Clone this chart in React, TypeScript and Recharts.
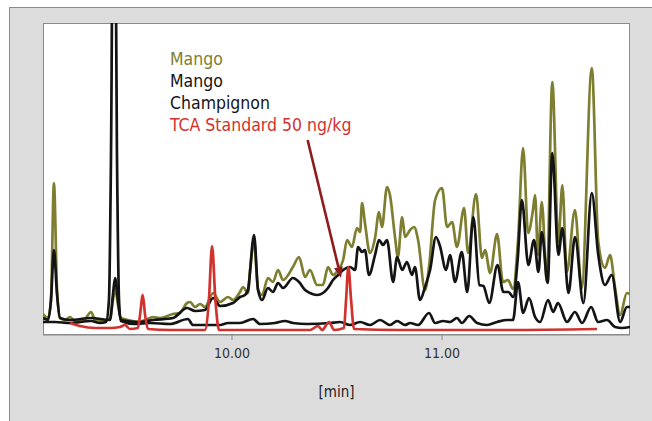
import { LineChart, Line, XAxis, YAxis, ReferenceLine } from "recharts";

// retention time [min], detector response (arbitrary units)
const mangoOlive: [number, number][] = [
	[9.1, 21], [9.124, 17], [9.138, 35], [9.152, 152], [9.167, 45], [9.181, 17], [9.205, 15],
	[9.229, 18], [9.252, 14], [9.29, 14], [9.329, 23], [9.348, 15], [9.395, 14], [9.419, 17],
	[9.433, 35], [9.443, 47], [9.457, 30], [9.471, 17], [9.505, 15], [9.552, 13], [9.586, 15],
	[9.624, 18], [9.657, 17], [9.719, 21], [9.752, 22], [9.786, 32], [9.8, 33], [9.824, 28],
	[9.848, 31], [9.871, 28], [9.91, 42], [9.943, 33], [9.981, 38], [10.005, 35], [10.038, 43],
	[10.052, 48], [10.076, 42], [10.086, 65], [10.105, 93], [10.124, 45], [10.143, 40],
	[10.171, 57], [10.195, 53], [10.219, 65], [10.243, 55], [10.29, 68], [10.319, 78],
	[10.348, 58], [10.371, 65], [10.405, 50], [10.433, 50], [10.457, 68], [10.481, 60],
	[10.505, 65], [10.529, 75], [10.548, 95], [10.571, 88], [10.595, 107], [10.61, 103],
	[10.619, 132], [10.633, 112], [10.657, 82], [10.681, 97], [10.7, 123], [10.714, 108],
	[10.738, 148], [10.752, 140], [10.776, 98], [10.79, 78], [10.81, 118], [10.824, 98],
	[10.848, 105], [10.867, 108], [10.886, 95], [10.919, 45], [10.938, 68], [10.967, 135],
	[11.0, 147], [11.024, 108], [11.048, 113], [11.071, 88], [11.105, 127], [11.124, 82],
	[11.162, 141], [11.19, 77], [11.205, 85], [11.229, 62], [11.262, 101], [11.29, 53],
	[11.314, 55], [11.338, 46], [11.362, 95], [11.386, 187], [11.41, 102], [11.433, 125],
	[11.443, 140], [11.457, 80], [11.475, 133], [11.499, 53], [11.525, 253], [11.554, 93],
	[11.573, 150], [11.594, 63], [11.633, 125], [11.665, 47], [11.713, 267], [11.744, 93],
	[11.776, 67], [11.8, 80], [11.824, 47], [11.848, 20], [11.88, 42], [11.895, 41],
];

const mangoBlack: [number, number][] = [
	[9.1, 17], [9.124, 15], [9.138, 35], [9.152, 85], [9.167, 40], [9.181, 17], [9.229, 15],
	[9.329, 17], [9.419, 15], [9.433, 40], [9.443, 57], [9.457, 35], [9.471, 15], [9.562, 13],
	[9.624, 15], [9.719, 17], [9.786, 27], [9.824, 24], [9.871, 25], [9.91, 37], [9.943, 29],
	[10.005, 32], [10.038, 38], [10.062, 40], [10.076, 45], [10.105, 100], [10.124, 45],
	[10.143, 35], [10.171, 47], [10.195, 43], [10.219, 52], [10.243, 47], [10.29, 57],
	[10.319, 53], [10.348, 45], [10.371, 42], [10.405, 40], [10.433, 42], [10.457, 47],
	[10.481, 55], [10.505, 60], [10.529, 65], [10.562, 68], [10.586, 65], [10.6, 88],
	[10.619, 83], [10.633, 85], [10.652, 60], [10.681, 80], [10.7, 95], [10.719, 90],
	[10.738, 95], [10.767, 53], [10.786, 78], [10.81, 65], [10.833, 73], [10.857, 60],
	[10.871, 68], [10.895, 35], [10.919, 48], [10.943, 65], [10.971, 98], [10.99, 89],
	[11.019, 65], [11.038, 80], [11.062, 53], [11.094, 83], [11.12, 43], [11.149, 118],
	[11.178, 50], [11.197, 49], [11.225, 32], [11.264, 70], [11.292, 43], [11.316, 43],
	[11.339, 38], [11.36, 75], [11.38, 135], [11.411, 70], [11.438, 95], [11.459, 63],
	[11.475, 103], [11.503, 52], [11.525, 182], [11.554, 80], [11.573, 107], [11.602, 42],
	[11.633, 98], [11.673, 32], [11.713, 142], [11.744, 80], [11.776, 50], [11.808, 60],
	[11.848, 13], [11.88, 28], [11.895, 28],
];

const champignon: [number, number][] = [
	[9.1, 13], [9.157, 13], [9.229, 12], [9.329, 14], [9.371, 12], [9.4, 13], [9.414, 35],
	[9.424, 185], [9.438, 600], [9.452, 185], [9.462, 35], [9.471, 14], [9.538, 11],
	[9.61, 12], [9.705, 11], [9.79, 16], [9.814, 10], [9.943, 10], [9.981, 12], [10.038, 12],
	[10.1, 16], [10.133, 11], [10.205, 12], [10.252, 14], [10.29, 12], [10.357, 11],
	[10.467, 12], [10.514, 13], [10.562, 10], [10.61, 13], [10.657, 10], [10.705, 15],
	[10.752, 10], [10.786, 14], [10.824, 10], [10.848, 12], [10.886, 10], [10.938, 22],
	[10.967, 12], [11.005, 14], [11.038, 13], [11.071, 17], [11.095, 12], [11.129, 19],
	[11.167, 12], [11.214, 10], [11.262, 13], [11.31, 15], [11.338, 15], [11.362, 53],
	[11.386, 22], [11.414, 37], [11.443, 18], [11.467, 13], [11.505, 35], [11.529, 23],
	[11.552, 32], [11.595, 13], [11.633, 23], [11.667, 12], [11.71, 28], [11.743, 13],
	[11.786, 15], [11.824, 8], [11.857, 7], [11.895, 8],
];

const tcaStandard: [number, number][] = [
	[9.229, 12], [9.276, 9], [9.348, 7], [9.419, 7], [9.467, 8], [9.49, 10], [9.514, 6],
	[9.552, 7], [9.562, 20], [9.575, 40], [9.586, 20], [9.6, 6], [9.705, 5], [9.871, 5],
	[9.89, 35], [9.905, 89], [9.921, 35], [9.938, 5], [10.133, 5], [10.371, 5], [10.41, 9],
	[10.429, 5], [10.462, 13], [10.486, 5], [10.533, 7], [10.543, 35], [10.554, 68],
	[10.567, 35], [10.581, 6], [10.8, 5], [11.276, 5], [11.738, 6],
];

const series = [
	{ name: "Mango", color: "#7e7e30", points: mangoOlive },
	{ name: "Mango", color: "#141414", points: mangoBlack },
	{ name: "Champignon", color: "#141414", points: champignon },
	{ name: "TCA Standard 50 ng/kg", color: "#d2322d", points: tcaStandard },
];

const xTicks = [10, 11];
// arrow pointing at the TCA peak: [time, response]
const arrowFrom = { x: 10.36, y: 195 };
const arrowTo = { x: 10.519, y: 57 };

const FONT = "'DejaVu Sans Condensed', 'DejaVu Sans', sans-serif";

function Arrow(props: any) {
	const { x1, y1, x2, y2 } = props;
	const ang = Math.atan2(y2 - y1, x2 - x1);
	const len = 11;
	const w = 4.5;
	const bx = x2 - len * Math.cos(ang);
	const by = y2 - len * Math.sin(ang);
	const px = -Math.sin(ang) * w;
	const py = Math.cos(ang) * w;
	return (
		<g>
			<line x1={x1} y1={y1} x2={bx} y2={by} stroke="#8e1c1c" strokeWidth={2.6} />
			<polygon
				points={`${x2},${y2} ${bx + px},${by + py} ${bx - px},${by - py}`}
				fill="#8e1c1c"
			/>
		</g>
	);
}

export default function App() {
	return (
		<div style={{ position: "absolute", left: 0, top: 0, width: 652, height: 421, background: "#fff", overflow: "hidden" }}>
			<div
				style={{
					position: "absolute",
					left: 9,
					top: 7,
					width: 660,
					height: 430,
					background: "#dddcdc",
					borderLeft: "1px solid #8c8c8c",
					borderTop: "1px solid #8c8c8c",
				}}
			/>
			<div
				style={{
					position: "absolute",
					left: 43,
					top: 23,
					width: 587,
					height: 312,
					background: "#fff",
					border: "1px solid #8a8a8a",
					boxSizing: "border-box",
				}}
			/>
			<div style={{ position: "absolute", left: 0, top: 0 }}>
				<LineChart width={652} height={421} margin={{ top: 23, right: 22, bottom: 16, left: 43 }}>
					<XAxis
						type="number"
						dataKey="t"
						domain={[9.1, 11.895]}
						allowDataOverflow
						ticks={xTicks}
						tickFormatter={(v: number) => v.toFixed(2)}
						height={70}
						tickSize={5}
						tickMargin={8}
						stroke="#8a8a8a"
						tick={{ fill: "#333", fontSize: 14, fontFamily: FONT }}
						label={{
							value: "[min]",
							position: "insideBottom",
							offset: 8,
							fill: "#222",
							fontSize: 15,
							fontFamily: FONT,
						}}
					/>
					<YAxis type="number" dataKey="v" domain={[0, 312]} allowDataOverflow hide />
					{series.map((s, i) => (
						<Line
							key={i}
							data={s.points.map(([t, v]) => ({ t, v }))}
							dataKey="v"
							name={s.name}
							type="monotone"
							stroke={s.color}
							strokeWidth={2.7}
							dot={false}
							isAnimationActive={false}
						/>
					))}
					<ReferenceLine segment={[arrowFrom, arrowTo]} shape={Arrow} ifOverflow="visible" />
				</LineChart>
			</div>
			<div
				style={{
					position: "absolute",
					left: 170,
					top: 48,
					fontFamily: FONT,
					fontSize: 17.5,
					lineHeight: "22px",
				}}
			>
				{series.map((s, i) => (
					<div key={i} style={{ color: s.color }}>
						{s.name}
					</div>
				))}
			</div>
		</div>
	);
}
